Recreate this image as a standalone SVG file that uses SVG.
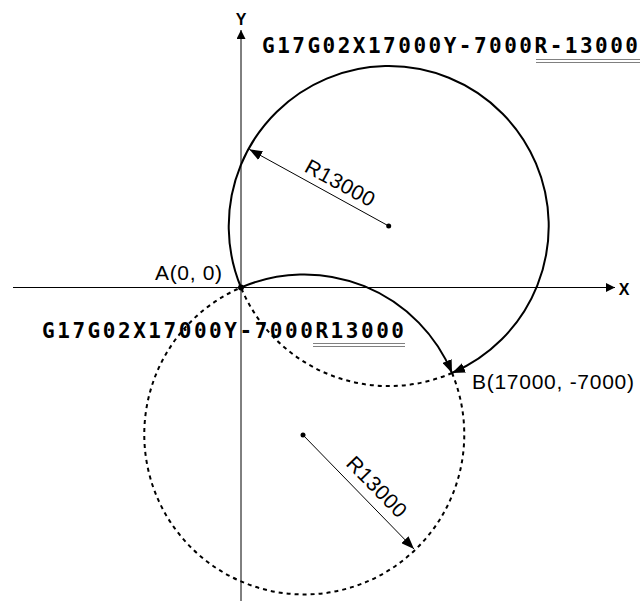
<svg xmlns="http://www.w3.org/2000/svg" width="641" height="603" viewBox="0 0 641 603">
<style>
.axis{stroke:#000;stroke-width:1;fill:none}
.arc{stroke:#000;stroke-width:2;fill:none}
.dash{stroke:#000;stroke-width:2;fill:none;stroke-dasharray:4 4}
.rad{stroke:#000;stroke-width:1;fill:none}
.lbl{font-family:"Liberation Sans",Arial,sans-serif;font-size:21px;fill:#000}
.ax{font-family:"Liberation Sans",Arial,sans-serif;font-size:16px;font-weight:bold;fill:#000}
.code{font-family:"DejaVu Sans Mono","Liberation Mono",monospace;font-size:21px;font-weight:bold;fill:#000}
.ul{stroke:#808080;stroke-width:1}
</style>
<defs>
<marker id="arr" markerUnits="userSpaceOnUse" markerWidth="14" markerHeight="10" refX="13" refY="5" orient="auto"><path d="M0,0 L13,5 L0,10 z" fill="#000"/></marker>
<marker id="axarr" markerUnits="userSpaceOnUse" markerWidth="9" markerHeight="9" refX="9" refY="4.5" orient="auto"><path d="M0,0 L9,4.5 L0,9 z" fill="#000"/></marker>
</defs>
<g id="axes">
<line class="axis" x1="13" y1="287.5" x2="615" y2="287.5" marker-end="url(#axarr)"/>
<line class="axis" x1="241" y1="601" x2="241" y2="30" marker-end="url(#axarr)"/>
<text class="ax" x="624" y="294.5" text-anchor="middle">X</text>
<text class="ax" x="241" y="24.5" text-anchor="middle">Y</text>
</g>
<g id="connectors">
<path class="dash" d="M452,373 A160,160 0 0 1 241,287.5"/>
<path class="dash" d="M452,373 A160,160 0 1 1 241,287.5"/>
<path class="arc" d="M241,287.5 A160,160 0 1 1 452,373" marker-end="url(#arr)"/>
<path class="arc" d="M241,287.5 A160,160 0 0 1 452,373" marker-end="url(#arr)"/>
<line class="rad" x1="388.7" y1="226" x2="249.3" y2="149.3" marker-end="url(#arr)"/>
<line class="rad" x1="303" y1="435" x2="414" y2="549" marker-end="url(#arr)"/>
</g>
<g id="centerUpper"><circle cx="388.7" cy="226" r="2.5" fill="#000"/>
<text class="lbl" transform="translate(333.3,195.3) rotate(28.7)" x="0" y="-7" text-anchor="middle" textLength="76">R13000</text></g>
<g id="centerLower"><circle cx="303" cy="435" r="2.5" fill="#000"/>
<text class="lbl" transform="translate(364.7,498.5) rotate(45.7)" x="0" y="-9.6" text-anchor="middle" textLength="76">R13000</text></g>
<g id="pointA"><circle cx="241" cy="287.5" r="3" fill="#000"/>
<text class="lbl" x="222" y="280" text-anchor="end" textLength="67">A(0, 0)</text></g>
<g id="pointB"><text class="lbl" x="472" y="389" textLength="162">B(17000, -7000)</text></g>
<g id="codeTop"><text class="code" x="262" y="52.5" textLength="376" lengthAdjust="spacing">G17G02X17000Y-7000R-13000</text>
<line class="ul" x1="536" y1="59.5" x2="640" y2="59.5"/><line class="ul" x1="536" y1="62.5" x2="640" y2="62.5"/></g>
<g id="codeBottom"><text class="code" x="42" y="338" textLength="362" lengthAdjust="spacing">G17G02X17000Y-7000R13000</text>
<line class="ul" x1="313" y1="343.5" x2="405" y2="343.5"/><line class="ul" x1="313" y1="346.5" x2="405" y2="346.5"/></g>
</svg>
